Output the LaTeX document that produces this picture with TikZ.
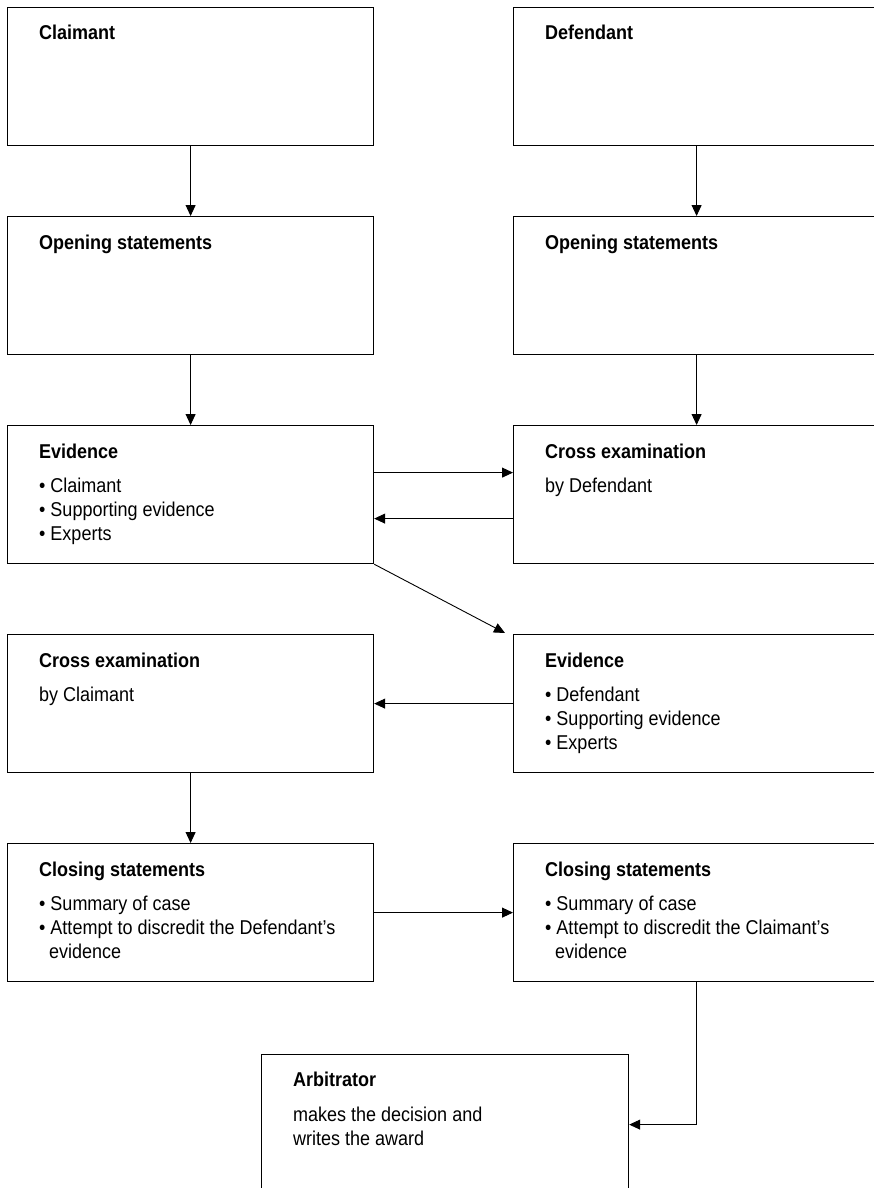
\documentclass[tikz,border=0pt]{standalone}
\usepackage{fontspec}
\setmainfont{Liberation Sans}[FakeStretch=0.9]
\usetikzlibrary{arrows.meta,calc}

\newcommand\stagefont{\fontsize{20}{24}\selectfont}

\tikzset{
  stage/.style={draw=black, line width=1.2pt, minimum width=366pt,
    minimum height=138pt, anchor=north west, inner sep=0pt},
  heading/.style={anchor=base west, inner sep=0pt, font=\stagefont\bfseries},
  bodyline/.style={anchor=base west, inner sep=0pt, font=\stagefont},
  arr/.style={line width=0.9pt, -{Triangle[length=11pt,width=10pt]}}
}

\begin{document}
\begin{tikzpicture}[x=1pt, y=-1pt]
\useasboundingbox (0,0) rectangle (874,1188);
\clip (0,0) rectangle (874,1188);
\fill[white] (0,0) rectangle (874,1188);

% row 1: parties
\node[stage] (clm) at (7,7) {};
\node[heading] (clmT) at ($(clm.north west)+(32,33)$) {Claimant};
\node[stage] (def) at (513,7) {};
\node[heading] (defT) at ($(def.north west)+(32,33)$) {Defendant};

% row 2: opening statements
\node[stage] (opL) at (7,216) {};
\node[heading] (opLT) at ($(opL.north west)+(32,33)$) {Opening statements};
\node[stage] (opR) at (513,216) {};
\node[heading] (opRT) at ($(opR.north west)+(32,33)$) {Opening statements};

% row 3: claimant's evidence, cross examination by defendant
\node[stage] (evL) at (7,425) {};
\node[heading] (evLT) at ($(evL.north west)+(32,33)$) {Evidence};
\node[bodyline] (evL1) at ($(evL.north west)+(32,67)$) {• Claimant};
\node[bodyline] (evL2) at ($(evL.north west)+(32,91)$) {• Supporting evidence};
\node[bodyline] (evL3) at ($(evL.north west)+(32,115)$) {• Experts};

\node[stage] (crR) at (513,425) {};
\node[heading] (crRT) at ($(crR.north west)+(32,33)$) {Cross examination};
\node[bodyline] (crR1) at ($(crR.north west)+(32,67)$) {by Defendant};

% row 4: cross examination by claimant, defendant's evidence
\node[stage] (crL) at (7,634) {};
\node[heading] (crLT) at ($(crL.north west)+(32,33)$) {Cross examination};
\node[bodyline] (crL1) at ($(crL.north west)+(32,67)$) {by Claimant};

\node[stage] (evR) at (513,634) {};
\node[heading] (evRT) at ($(evR.north west)+(32,33)$) {Evidence};
\node[bodyline] (evR1) at ($(evR.north west)+(32,67)$) {• Defendant};
\node[bodyline] (evR2) at ($(evR.north west)+(32,91)$) {• Supporting evidence};
\node[bodyline] (evR3) at ($(evR.north west)+(32,115)$) {• Experts};

% row 5: closing statements
\node[stage] (clL) at (7,843) {};
\node[heading] (clLT) at ($(clL.north west)+(32,33)$) {Closing statements};
\node[bodyline] (clL1) at ($(clL.north west)+(32,67)$) {• Summary of case};
\node[bodyline] (clL2) at ($(clL.north west)+(32,91)$) {• Attempt to discredit the Defendant’s};
\node[bodyline] (clL3) at ($(clL.north west)+(42,115)$) {evidence};

\node[stage] (clR) at (513,843) {};
\node[heading] (clRT) at ($(clR.north west)+(32,33)$) {Closing statements};
\node[bodyline] (clR1) at ($(clR.north west)+(32,67)$) {• Summary of case};
\node[bodyline] (clR2) at ($(clR.north west)+(32,91)$) {• Attempt to discredit the Claimant’s};
\node[bodyline] (clR3) at ($(clR.north west)+(42,115)$) {evidence};

% row 6: arbitrator
\node[stage, minimum width=367pt, minimum height=140pt] (arb) at (261,1054) {};
\node[heading] (arbT) at ($(arb.north west)+(32,32)$) {Arbitrator};
\node[bodyline] (arb1) at ($(arb.north west)+(32,67)$) {makes the decision and};
\node[bodyline] (arb2) at ($(arb.north west)+(32,91)$) {writes the award};

% connectors
\draw[arr] (clm) -- (opL);
\draw[arr] (def) -- (opR);
\draw[arr] (opL) -- (evL);
\draw[arr] (opR) -- (crR);
\draw[arr] ([yshift=22pt]evL.east) -- ([yshift=22pt]crR.west);
\draw[arr] ([yshift=-24pt]crR.west) -- ([yshift=-24pt]evL.east);
\coordinate (diagEnd) at ($(evR.north west)+(-8,-1)$);
\draw[arr] (evL.south east) -- (diagEnd);
\draw[arr] (evR) -- (crL);
\draw[arr] (crL) -- (clL);
\draw[arr] (clL) -- (clR);
\draw[arr] (clR.south) |- (arb.east);
\end{tikzpicture}
\end{document}
